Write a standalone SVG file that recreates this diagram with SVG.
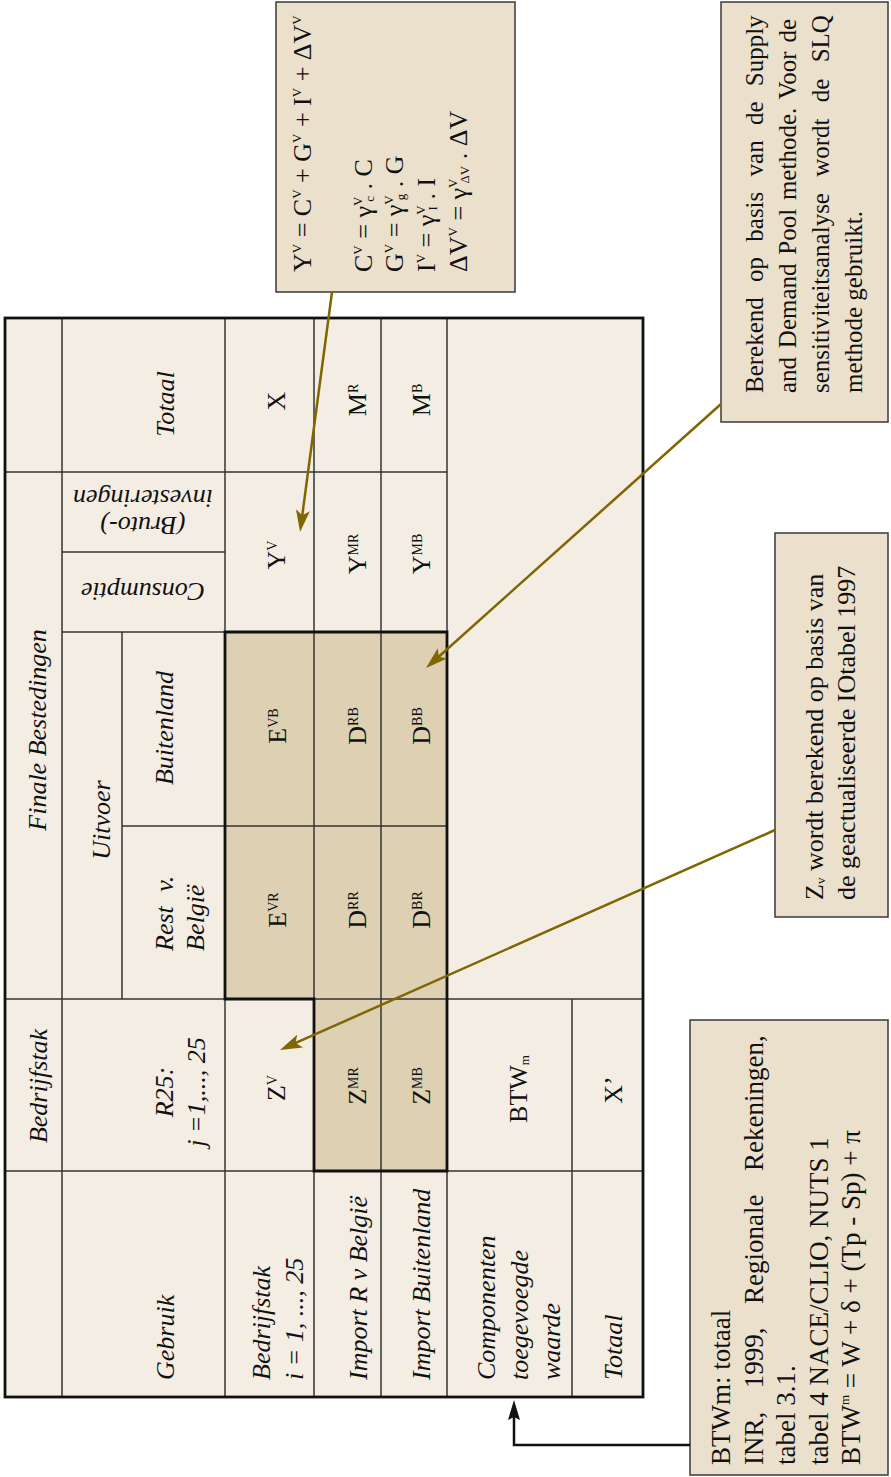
<svg xmlns="http://www.w3.org/2000/svg" width="891" height="1477" viewBox="0 0 891 1477">
<style>
.t{font-family:'Liberation Serif','Times New Roman',serif;font-size:26px;fill:#111}
.i{font-style:italic}
.sp{font-size:14px}
.fs{font-size:13px}
.bg{fill:#f4ede3}
.shade{fill:#ddd0b3}
.grid{stroke:#333;stroke-width:1.5;fill:none}
.thick{stroke:#111;stroke-width:2.8;fill:none}
.note{fill:#ebe0cc;stroke:#3a3a3a;stroke-width:1.5}
.olive{stroke:#7f6600;stroke-width:2.5;fill:none}
.blk{stroke:#111;stroke-width:2.5;fill:none}
</style>
<defs>
<marker id="ah" markerUnits="userSpaceOnUse" markerWidth="22" markerHeight="14" viewBox="0 0 22 14" refX="14" refY="7" orient="auto">
<path d="M0,0 L22,7 L0,14 L5,7 z" fill="#7f6600"/>
</marker>
<marker id="bh" markerUnits="userSpaceOnUse" markerWidth="20" markerHeight="12" viewBox="0 0 20 12" refX="8" refY="6" orient="auto">
<path d="M0,0 L20,6 L0,12 L3,6 z" fill="#111"/>
</marker>
</defs>
<rect width="891" height="1477" fill="#ffffff"/>

<g id="table">
<rect class="bg" x="5" y="318" width="638" height="1079"/>
<polygon class="shade" points="225,632 447,632 447,1171 314,1171 314,999 225,999"/>
<g class="grid">
<line x1="62" y1="318" x2="62" y2="1397"/>
<line x1="122" y1="632" x2="122" y2="999"/>
<line x1="225" y1="318" x2="225" y2="1397"/>
<line x1="314" y1="318" x2="314" y2="1397"/>
<line x1="381" y1="318" x2="381" y2="1397"/>
<line x1="447" y1="318" x2="447" y2="1397"/>
<line x1="572" y1="999" x2="572" y2="1397"/>
<line x1="5" y1="472" x2="447" y2="472"/>
<line x1="62" y1="552" x2="225" y2="552"/>
<line x1="62" y1="632" x2="447" y2="632"/>
<line x1="122" y1="826" x2="447" y2="826"/>
<line x1="5" y1="999" x2="643" y2="999"/>
<line x1="5" y1="1171" x2="643" y2="1171"/>
</g>
<polygon class="thick" points="225,632 447,632 447,1171 314,1171 314,999 225,999"/>
<rect class="thick" x="5" y="318" width="638" height="1079"/>
</g>

<g id="hdr-finale"><text class="t i" transform="translate(46,730) rotate(-90)" text-anchor="middle">Finale Bestedingen</text></g>
<g id="hdr-totaal"><text class="t i" transform="translate(174,404) rotate(-90)" text-anchor="middle">Totaal</text></g>
<g id="hdr-bruto"><text class="t i" transform="translate(143,517) rotate(180)" text-anchor="middle"><tspan x="0" dy="0">(Bruto-)</tspan><tspan x="0" dy="27">investeringen</tspan></text></g>
<g id="hdr-consumptie"><text class="t i" transform="translate(143,583) rotate(180)" text-anchor="middle">Consumptie</text></g>
<g id="hdr-uitvoer"><text class="t i" transform="translate(110,820) rotate(-90)" text-anchor="middle">Uitvoer</text></g>
<g id="hdr-buitenland"><text class="t i" transform="translate(173,728) rotate(-90)" text-anchor="middle">Buitenland</text></g>
<g id="hdr-rest"><text class="t i" transform="translate(173,951) rotate(-90)"><tspan x="0" dy="0" style="word-spacing:8px">Rest v.</tspan><tspan x="0" dy="31">België</tspan></text></g>
<g id="hdr-bedrijfstak-col"><text class="t i" transform="translate(47,1086) rotate(-90)" text-anchor="middle">Bedrijfstak</text></g>
<g id="hdr-r25"><text class="t i" transform="translate(173,1092) rotate(-90)" text-anchor="middle"><tspan x="0" dy="0">R25:</tspan><tspan x="0" dy="32">j =1,..., 25</tspan></text></g>
<g id="hdr-gebruik"><text class="t i" transform="translate(174,1380) rotate(-90)">Gebruik</text></g>
<g id="row-bedrijfstak"><text class="t i" transform="translate(270,1380) rotate(-90)"><tspan x="0" dy="0">Bedrijfstak</tspan><tspan x="0" dy="33">i = 1, ..., 25</tspan></text></g>
<g id="row-import-r"><text class="t i" transform="translate(367,1380) rotate(-90)">Import R v België</text></g>
<g id="row-import-b"><text class="t i" transform="translate(430,1380) rotate(-90)">Import Buitenland</text></g>
<g id="row-componenten"><text class="t i" transform="translate(495,1380) rotate(-90)"><tspan x="0" dy="0">Componenten</tspan><tspan x="0" dy="33">toegevoegde</tspan><tspan x="0" dy="32">waarde</tspan></text></g>
<g id="row-totaal"><text class="t i" transform="translate(622,1380) rotate(-90)">Totaal</text></g>

<g id="c-X"><text class="t" transform="translate(285,401) rotate(-90)" text-anchor="middle">X</text></g>
<g id="c-MR"><text class="t" transform="translate(366,400) rotate(-90)" text-anchor="middle">M<tspan class="sp" dy="-8">R</tspan></text></g>
<g id="c-MB"><text class="t" transform="translate(430,400) rotate(-90)" text-anchor="middle">M<tspan class="sp" dy="-8">B</tspan></text></g>
<g id="c-YV"><text class="t" transform="translate(285,555) rotate(-90)" text-anchor="middle">Y<tspan class="sp" dy="-8">V</tspan></text></g>
<g id="c-YMR"><text class="t" transform="translate(366,554) rotate(-90)" text-anchor="middle">Y<tspan class="sp" dy="-8">MR</tspan></text></g>
<g id="c-YMB"><text class="t" transform="translate(430,554) rotate(-90)" text-anchor="middle">Y<tspan class="sp" dy="-8">MB</tspan></text></g>
<g id="c-EVB"><text class="t" transform="translate(286,726) rotate(-90)" text-anchor="middle">E<tspan class="sp" dy="-8">VB</tspan></text></g>
<g id="c-DRB"><text class="t" transform="translate(366,726) rotate(-90)" text-anchor="middle">D<tspan class="sp" dy="-8">RB</tspan></text></g>
<g id="c-DBB"><text class="t" transform="translate(430,726) rotate(-90)" text-anchor="middle">D<tspan class="sp" dy="-8">BB</tspan></text></g>
<g id="c-EVR"><text class="t" transform="translate(286,910) rotate(-90)" text-anchor="middle">E<tspan class="sp" dy="-8">VR</tspan></text></g>
<g id="c-DRR"><text class="t" transform="translate(366,910) rotate(-90)" text-anchor="middle">D<tspan class="sp" dy="-8">RR</tspan></text></g>
<g id="c-DBR"><text class="t" transform="translate(430,910) rotate(-90)" text-anchor="middle">D<tspan class="sp" dy="-8">BR</tspan></text></g>
<g id="c-ZV"><text class="t" transform="translate(285,1088) rotate(-90)" text-anchor="middle">Z<tspan class="sp" dy="-8">V</tspan></text></g>
<g id="c-ZMR"><text class="t" transform="translate(366,1086) rotate(-90)" text-anchor="middle">Z<tspan class="sp" dy="-8">MR</tspan></text></g>
<g id="c-ZMB"><text class="t" transform="translate(430,1086) rotate(-90)" text-anchor="middle">Z<tspan class="sp" dy="-8">MB</tspan></text></g>
<g id="c-BTWm"><text class="t" transform="translate(527,1089) rotate(-90)" text-anchor="middle">BTW<tspan class="fs" dy="2">m</tspan></text></g>
<g id="c-Xprime"><text class="t" transform="translate(622,1090) rotate(-90)" text-anchor="middle">X’</text></g>

<g id="note-formula">
<rect class="note" x="276" y="2" width="239" height="290"/>
<text class="t" transform="translate(311,272) rotate(-90)">Y<tspan class="fs" dy="-10">V</tspan><tspan dy="10"> = C</tspan><tspan class="fs" dy="-10">V</tspan><tspan dy="10"> + G</tspan><tspan class="fs" dy="-10">V</tspan><tspan dy="10"> + I</tspan><tspan class="fs" dy="-10">V</tspan><tspan dy="10"> + ΔV</tspan><tspan class="fs" dy="-10">V</tspan></text>
<text class="t" transform="translate(372,272) rotate(-90)">C<tspan class="fs" dy="-10">V</tspan><tspan dy="10"> = γ</tspan><tspan class="fs" dy="-10">V</tspan><tspan class="fs" dx="-5" dy="12">c</tspan><tspan dy="-2"> . C</tspan></text>
<text class="t" transform="translate(403,272) rotate(-90)">G<tspan class="fs" dy="-10">V</tspan><tspan dy="10"> = γ</tspan><tspan class="fs" dy="-10">V</tspan><tspan class="fs" dx="-5" dy="12">g</tspan><tspan dy="-2"> . G</tspan></text>
<text class="t" transform="translate(435,272) rotate(-90)">I<tspan class="fs" dy="-10">V</tspan><tspan dy="10"> = γ</tspan><tspan class="fs" dy="-10">V</tspan><tspan class="fs" dx="-5" dy="12">I</tspan><tspan dy="-2"> . I</tspan></text>
<text class="t" transform="translate(467,272) rotate(-90)">ΔV<tspan class="fs" dy="-10">V</tspan><tspan dy="10"> = γ</tspan><tspan class="fs" dy="-10">V</tspan><tspan class="fs" dx="-5" dy="12">ΔV</tspan><tspan dy="-2"> . ΔV</tspan></text>
</g>

<g id="note-supply">
<rect class="note" x="721" y="2" width="167" height="420"/>
<text class="t" style="font-size:25px;word-spacing:9px" transform="translate(763,393) rotate(-90)">Berekend op basis van de Supply</text>
<text class="t" style="font-size:25px;word-spacing:2.5px" transform="translate(796,393) rotate(-90)">and Demand Pool methode. Voor de</text>
<text class="t" style="font-size:25px;word-spacing:10px" transform="translate(829,393) rotate(-90)">sensitiviteitsanalyse wordt de SLQ</text>
<text class="t" style="font-size:25px" transform="translate(862,393) rotate(-90)">methode gebruikt.</text>
</g>

<g id="note-zv">
<rect class="note" x="775" y="533" width="113" height="384"/>
<text class="t" transform="translate(823,900) rotate(-90)">Z<tspan class="fs" dy="2">v</tspan><tspan dy="-2"> wordt berekend op basis van</tspan></text>
<text class="t" transform="translate(855,900) rotate(-90)">de geactualiseerde IOtabel 1997</text>
</g>

<g id="note-btw">
<rect class="note" x="690" y="1020" width="198" height="455"/>
<text class="t" style="font-size:27px" transform="translate(730,1465) rotate(-90)">BTWm: totaal</text>
<text class="t" style="font-size:27px;word-spacing:16.8px" transform="translate(763,1465) rotate(-90)">INR, 1999, Regionale Rekeningen,</text>
<text class="t" style="font-size:27px" transform="translate(795,1465) rotate(-90)">tabel 3.1.</text>
<text class="t" style="font-size:27px" transform="translate(828,1465) rotate(-90)">tabel 4 NACE/CLIO, NUTS 1</text>
<text class="t" style="font-size:27px" transform="translate(860,1465) rotate(-90)">BTW<tspan class="fs" dy="-11">m</tspan><tspan dy="11"> = W + δ + (Tp - Sp) + π</tspan></text>
</g>

<g id="connectors">
<line class="olive" x1="332" y1="292" x2="301.1" y2="524.1" marker-end="url(#ah)"/>
<line class="olive" x1="721" y1="404" x2="432" y2="662.7" marker-end="url(#ah)"/>
<line class="olive" x1="775" y1="830" x2="287.3" y2="1046.7" marker-end="url(#ah)"/>
<polyline class="blk" points="690,1445 514,1445 514,1412" marker-end="url(#bh)"/>
</g>
</svg>
